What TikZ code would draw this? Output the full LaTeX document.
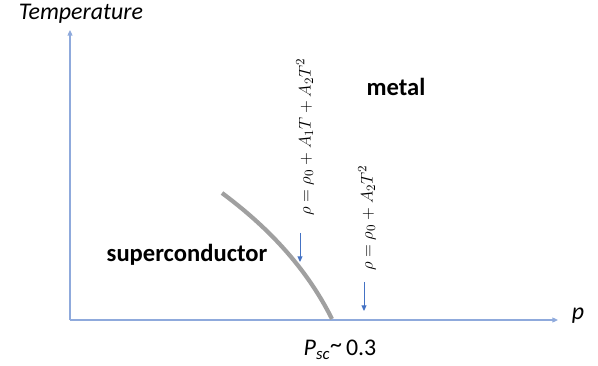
\documentclass[tikz,border=0pt]{standalone}
\usepackage{fontspec}
\setmainfont{Carlito}
\usepackage{tikz}
\usetikzlibrary{arrows.meta,positioning,calc}
\definecolor{axisblue}{RGB}{143,170,220}
\definecolor{arrowblue}{RGB}{68,114,196}
\definecolor{linegray}{RGB}{160,160,160}

\tikzset{
  axis/.style={draw=axisblue, line width=0.9pt, -{Triangle[length=4pt,width=3.5pt]}},
  hint/.style={draw=arrowblue, line width=0.7pt, -{Triangle[length=4pt,width=3.5pt]}},
  phase/.style={font=\fontsize{17.5}{20}\selectfont\bfseries},
  axlabel/.style={font=\fontsize{17}{20}\selectfont\itshape},
  law/.style={rotate=90, font=\fontsize{12.5}{15}\selectfont, inner sep=0pt}
}

\begin{document}
\begin{tikzpicture}[x=0.025cm, y=-0.025cm]
\useasboundingbox (0,0) rectangle (598,366);

% axes
\coordinate (origin) at (70,320);
\coordinate (t-end) at (70,30);
\coordinate (p-end) at (558,320);
\draw[axis] (origin) -- (t-end);
\draw[axis] (origin) -- (p-end);
\node[axlabel] (t-label) at (81,14) {Temperature};
\node[axlabel] (p-label) at (578,316) {p};

% phase boundary
\coordinate (sc-top) at (222,193);
\coordinate (sc-end) at (332,319);
\draw[linegray, line width=3pt] (sc-top) .. controls (265,225) and (305,265) .. (sc-end);
\node[font=\fontsize{17}{20}\selectfont] (psc) at (340,350) {\textit{P}\textsubscript{\itshape sc}\raisebox{0.3ex}{\textasciitilde}\,0.3};

% phases
\node[phase] (metal) at (396,87) {metal};
\node[phase] (sc) at (187,255) {superconductor};

% resistivity laws
\node[law] (law-lin) at (305,137) {$\rho=\rho_0+A_1T+A_2T^2$};
\node[law] (law-sq) at (367,218) {$\rho=\rho_0+A_2T^2$};
\coordinate (lin-from) at (300,233);
\coordinate (lin-tip) at (300,262);
\coordinate (sq-from) at (364,282);
\coordinate (sq-tip) at (364,311);
\draw[hint] (lin-from) -- (lin-tip);
\draw[hint] (sq-from) -- (sq-tip);

\end{tikzpicture}
\end{document}
